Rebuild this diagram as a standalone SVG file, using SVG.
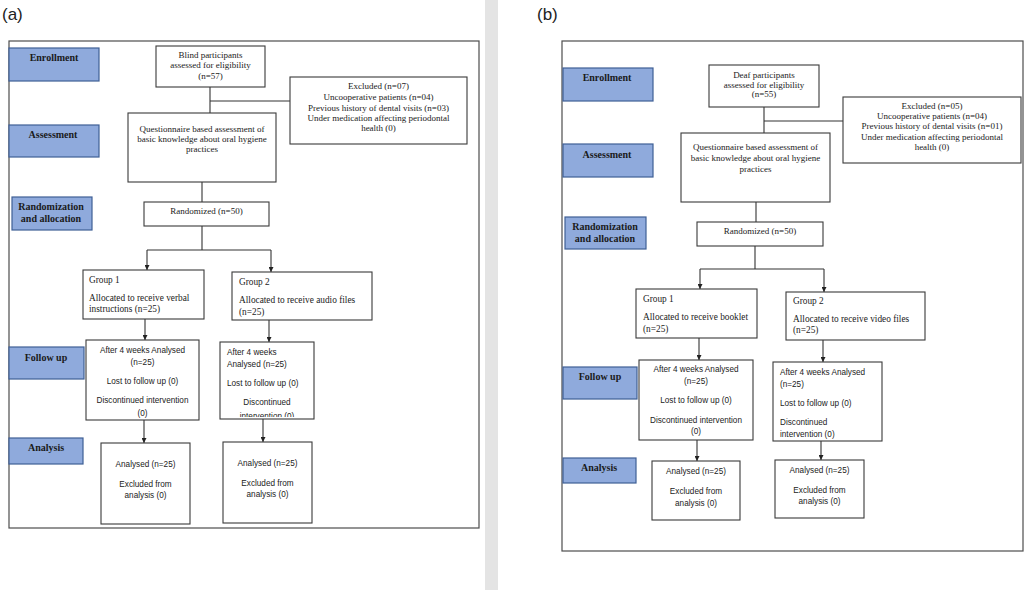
<svg xmlns="http://www.w3.org/2000/svg" width="1026" height="590" viewBox="0 0 1026 590">
<defs>
<style>
.frame{fill:none;stroke:#4d4d4d;stroke-width:1.2}
.lab{fill:#8faadc;stroke:#3f5f95;stroke-width:1.2}
.labt{font-family:"Liberation Serif",serif;font-weight:bold;font-size:10px;fill:#1a1a1a;text-anchor:middle}
.box{fill:#fff;stroke:#3a3a3a;stroke-width:1.1}
.st{font-family:"Liberation Serif",serif;font-size:9px;fill:#222;text-anchor:middle}
.sl{font-family:"Liberation Serif",serif;font-size:9.3px;fill:#222}
.ss{font-family:"Liberation Sans",sans-serif;font-size:8.2px;fill:#222;text-anchor:middle}
.ssl{font-family:"Liberation Sans",sans-serif;font-size:8.2px;fill:#222}
.ln{fill:none;stroke:#333;stroke-width:1.1}
.ar{fill:none;stroke:#333;stroke-width:1.1;marker-end:url(#ah)}
.pl{font-family:"Liberation Sans",sans-serif;font-size:17px;fill:#222}
</style>
<marker id="ah" viewBox="0 0 10 10" refX="10" refY="5" markerWidth="5" markerHeight="5" markerUnits="userSpaceOnUse" orient="auto">
<path d="M0,0 L10,5 L0,10 Z" fill="#222"/>
</marker>
<clipPath id="clipA"><rect x="220" y="342" width="94" height="75"/></clipPath>
</defs>
<rect x="0" y="0" width="1026" height="590" fill="#fff"/>
<rect x="485" y="0" width="13" height="590" fill="#e4e4e4"/>

<g id="panel-a">
<text class="pl" x="2" y="20">(a)</text>
<rect class="frame" x="9" y="41" width="470" height="487"/>
</g>
<g id="panel-b">
<text class="pl" x="537" y="20">(b)</text>
<rect class="frame" x="562" y="41" width="461" height="510"/>
</g>

<g id="connectors">
<!-- panel a -->
<path class="ln" d="M210,87 V113 M210,101 H290"/>
<path class="ln" d="M202,182 V202"/>
<path class="ln" d="M202,226 V250 M147,250 H271"/>
<path class="ar" d="M147,250 V270"/>
<path class="ar" d="M271,250 V272"/>
<path class="ar" d="M145,319 V340"/>
<path class="ar" d="M269,320 V342"/>
<path class="ar" d="M144,420 V443"/>
<path class="ar" d="M263,419 V442"/>
<!-- panel b -->
<path class="ln" d="M764,107 V133 M764,121 H843"/>
<path class="ln" d="M756,202 V222"/>
<path class="ln" d="M755,246 V269 M700,269 H824"/>
<path class="ar" d="M700,269 V289"/>
<path class="ar" d="M824,269 V292"/>
<path class="ar" d="M699,338 V360"/>
<path class="ar" d="M823,340 V362"/>
<path class="ar" d="M697,440 V461"/>
<path class="ar" d="M821,441 V460"/>
</g>

<!-- Panel a stage labels -->
<g id="a-enrollment"><rect class="lab" x="9" y="48" width="90" height="33"/><text class="labt" x="54" y="61">Enrollment</text></g>
<g id="a-assessment"><rect class="lab" x="9" y="125" width="90" height="32"/><text class="labt" x="53" y="137.5">Assessment</text></g>
<g id="a-randomization"><rect class="lab" x="12" y="197" width="80" height="33"/><text class="labt" x="51" y="209.5">Randomization</text><text class="labt" x="51" y="221.5">and allocation</text></g>
<g id="a-followup"><rect class="lab" x="9" y="347" width="75" height="32"/><text class="labt" x="46" y="360.5">Follow up</text></g>
<g id="a-analysis"><rect class="lab" x="9" y="438" width="74" height="26"/><text class="labt" x="46" y="451">Analysis</text></g>

<!-- Panel a nodes -->
<g id="a-blind"><rect class="box" x="156" y="46" width="109" height="41"/>
<text class="st" x="210.5" y="57.5">Blind participants</text>
<text class="st" x="210.5" y="68">assessed for eligibility</text>
<text class="st" x="210.5" y="78.5">(n=57)</text></g>
<g id="a-excluded"><rect class="box" x="290" y="77" width="177" height="67"/>
<text class="st" x="378.5" y="89">Excluded (n=07)</text>
<text class="st" x="378.5" y="100">Uncooperative patients  (n=04)</text>
<text class="st" x="378.5" y="110.5">Previous history of dental visits (n=03)</text>
<text class="st" x="378.5" y="121">Under medication  affecting periodontal</text>
<text class="st" x="378.5" y="131">health (0)</text></g>
<g id="a-questionnaire"><rect class="box" x="128" y="113" width="148" height="69"/>
<text class="st" x="202" y="131.5">Questionnaire based assessment of</text>
<text class="st" x="202" y="141.5">basic knowledge about oral hygiene</text>
<text class="st" x="202" y="152">practices</text></g>
<g id="a-randomized"><rect class="box" x="144" y="202" width="125" height="24"/>
<text class="st" x="206.5" y="214">Randomized (n=50)</text></g>
<g id="a-group1"><rect class="box" x="83" y="270" width="121" height="49"/>
<text class="sl" x="89" y="282.5">Group 1</text>
<text class="sl" x="89" y="300.5">Allocated to receive verbal</text>
<text class="sl" x="89" y="312">instructions (n=25)</text></g>
<g id="a-group2"><rect class="box" x="232" y="272" width="140" height="48"/>
<text class="sl" x="239" y="285">Group 2</text>
<text class="sl" x="239" y="303">Allocated to receive audio files</text>
<text class="sl" x="239" y="314.5">(n=25)</text></g>
<g id="a-follow1"><rect class="box" x="86" y="340" width="113" height="80"/>
<text class="ss" x="142.5" y="353">After 4 weeks Analysed</text>
<text class="ss" x="142.5" y="365">(n=25)</text>
<text class="ss" x="142.5" y="384">Lost to follow up (0)</text>
<text class="ss" x="142.5" y="403">Discontinued intervention</text>
<text class="ss" x="142.5" y="415.5">(0)</text></g>
<g id="a-follow2"><rect class="box" x="220" y="342" width="94" height="77"/>
<text class="ssl" x="227" y="355">After 4 weeks</text>
<text class="ssl" x="227" y="367">Analysed (n=25)</text>
<text class="ssl" x="227" y="386">Lost to follow up (0)</text>
<text class="ss" x="267" y="405">Discontinued</text>
<text class="ss" x="267" y="419" clip-path="url(#clipA)">intervention (0)</text></g>
<g id="a-analysis1"><rect class="box" x="101" y="443" width="89" height="81"/>
<text class="ss" x="145.5" y="466.5">Analysed (n=25)</text>
<text class="ss" x="145.5" y="486.5">Excluded from</text>
<text class="ss" x="145.5" y="498">analysis (0)</text></g>
<g id="a-analysis2"><rect class="box" x="223" y="442" width="89" height="81"/>
<text class="ss" x="267.5" y="465.5">Analysed (n=25)</text>
<text class="ss" x="267.5" y="485.5">Excluded from</text>
<text class="ss" x="267.5" y="497">analysis (0)</text></g>

<!-- Panel b stage labels -->
<g id="b-enrollment"><rect class="lab" x="563" y="68" width="90" height="33"/><text class="labt" x="607" y="81">Enrollment</text></g>
<g id="b-assessment"><rect class="lab" x="563" y="144" width="90" height="33"/><text class="labt" x="607" y="157.5">Assessment</text></g>
<g id="b-randomization"><rect class="lab" x="565" y="217" width="81" height="32"/><text class="labt" x="605" y="229.5">Randomization</text><text class="labt" x="605" y="241.5">and allocation</text></g>
<g id="b-followup"><rect class="lab" x="563" y="367" width="74" height="32"/><text class="labt" x="600" y="379.5">Follow up</text></g>
<g id="b-analysis"><rect class="lab" x="563" y="458" width="73" height="25"/><text class="labt" x="599" y="470.5">Analysis</text></g>

<!-- Panel b nodes -->
<g id="b-deaf"><rect class="box" x="709" y="65" width="110" height="42"/>
<text class="st" x="764" y="78">Deaf participants</text>
<text class="st" x="764" y="88">assessed for eligibility</text>
<text class="st" x="764" y="96.5">(n=55)</text></g>
<g id="b-excluded"><rect class="box" x="843" y="97" width="178" height="66"/>
<text class="st" x="932" y="108.5">Excluded (n=05)</text>
<text class="st" x="932" y="119">Uncooperative patients  (n=04)</text>
<text class="st" x="932" y="129">Previous history of dental visits (n=01)</text>
<text class="st" x="932" y="140">Under medication  affecting periodontal</text>
<text class="st" x="932" y="150">health (0)</text></g>
<g id="b-questionnaire"><rect class="box" x="681" y="133" width="149" height="69"/>
<text class="st" x="755.5" y="150">Questionnaire based assessment of</text>
<text class="st" x="755.5" y="161">basic knowledge about oral hygiene</text>
<text class="st" x="755.5" y="171.5">practices</text></g>
<g id="b-randomized"><rect class="box" x="697" y="222" width="126" height="24"/>
<text class="st" x="760" y="234">Randomized (n=50)</text></g>
<g id="b-group1"><rect class="box" x="636" y="289" width="121" height="49"/>
<text class="sl" x="643" y="302">Group 1</text>
<text class="sl" x="643" y="320">Allocated to receive booklet</text>
<text class="sl" x="643" y="331.5">(n=25)</text></g>
<g id="b-group2"><rect class="box" x="786" y="292" width="139" height="48"/>
<text class="sl" x="793" y="303.5">Group 2</text>
<text class="sl" x="793" y="321.5">Allocated to receive video files</text>
<text class="sl" x="793" y="333">(n=25)</text></g>
<g id="b-follow1"><rect class="box" x="639" y="360" width="114" height="80"/>
<text class="ss" x="696" y="372">After 4 weeks Analysed</text>
<text class="ss" x="696" y="384">(n=25)</text>
<text class="ss" x="696" y="402.5">Lost to follow up (0)</text>
<text class="ss" x="696" y="422.5">Discontinued intervention</text>
<text class="ss" x="696" y="434">(0)</text></g>
<g id="b-follow2"><rect class="box" x="773" y="362" width="109" height="79"/>
<text class="ssl" x="780" y="375">After 4 weeks Analysed</text>
<text class="ssl" x="780" y="387">(n=25)</text>
<text class="ssl" x="780" y="406">Lost to follow up (0)</text>
<text class="ssl" x="780" y="425">Discontinued</text>
<text class="ssl" x="780" y="436.5">intervention (0)</text></g>
<g id="b-analysis1"><rect class="box" x="652" y="461" width="88" height="59"/>
<text class="ss" x="696" y="474">Analysed (n=25)</text>
<text class="ss" x="696" y="494">Excluded from</text>
<text class="ss" x="696" y="505.5">analysis (0)</text></g>
<g id="b-analysis2"><rect class="box" x="775" y="460" width="89" height="58"/>
<text class="ss" x="819.5" y="473">Analysed (n=25)</text>
<text class="ss" x="819.5" y="492.5">Excluded from</text>
<text class="ss" x="819.5" y="504">analysis (0)</text></g>
</svg>
